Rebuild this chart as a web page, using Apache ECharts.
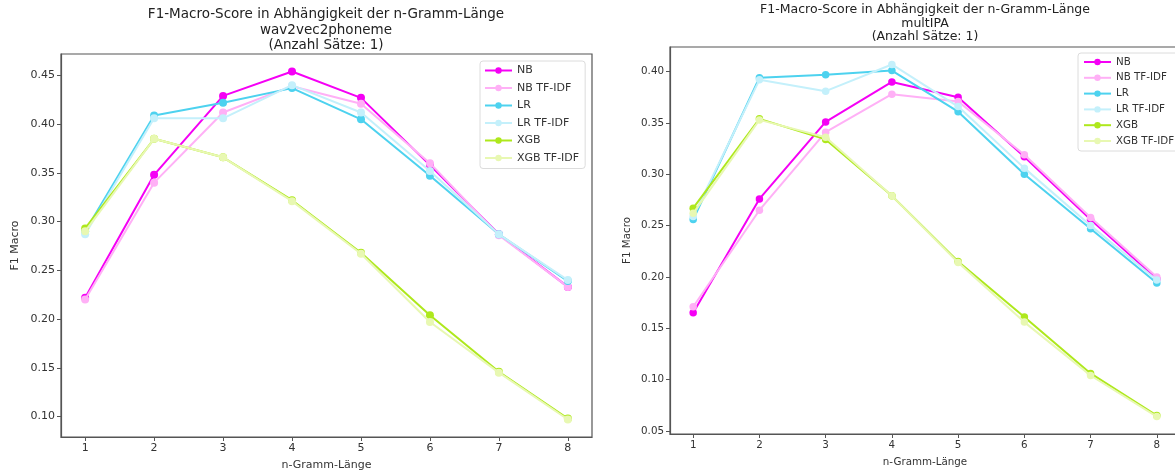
<!DOCTYPE html>
<html>
<head>
<meta charset="utf-8">
<script src="https://cdn.jsdelivr.net/npm/echarts@6/dist/echarts.min.js"></script>
<style>
  html, body { margin: 0; padding: 0; background: #fff; }
  #chart { width: 1175px; height: 472px; }
</style>
</head>
<body>
<div id="chart"></div>
<script>
// n-gram lengths on the x axis
const nGram = [1, 2, 3, 4, 5, 6, 7, 8];

// Tick positions / labels
const xTicks = [1, 2, 3, 4, 5, 6, 7, 8];
const yTicksLeft = [0.10, 0.15, 0.20, 0.25, 0.30, 0.35, 0.40, 0.45];
const yTicksRight = [0.05, 0.10, 0.15, 0.20, 0.25, 0.30, 0.35, 0.40];

// Series names
const seriesNames = ['NB', 'NB TF-IDF', 'LR', 'LR TF-IDF', 'XGB', 'XGB TF-IDF'];

// wav2vec2phoneme: F1 macro per n-gram length
const w2vNB      = [0.222, 0.348, 0.429, 0.454, 0.427, 0.358, 0.287, 0.233];
const w2vNBTfidf = [0.220, 0.340, 0.412, 0.439, 0.421, 0.360, 0.286, 0.233];
const w2vLR      = [0.290, 0.409, 0.422, 0.437, 0.405, 0.347, 0.287, 0.239];
const w2vLRTfidf = [0.287, 0.406, 0.406, 0.440, 0.412, 0.352, 0.287, 0.240];
const w2vXGB     = [0.293, 0.385, 0.366, 0.322, 0.268, 0.204, 0.146, 0.098];
const w2vXGBTfidf= [0.290, 0.385, 0.366, 0.321, 0.267, 0.197, 0.145, 0.097];

// multIPA: F1 macro per n-gram length
const ipaNB      = [0.165, 0.276, 0.351, 0.390, 0.375, 0.317, 0.256, 0.198];
const ipaNBTfidf = [0.171, 0.265, 0.341, 0.378, 0.371, 0.319, 0.258, 0.200];
const ipaLR      = [0.256, 0.394, 0.397, 0.401, 0.361, 0.300, 0.247, 0.194];
const ipaLRTfidf = [0.259, 0.392, 0.381, 0.407, 0.366, 0.306, 0.250, 0.197];
const ipaXGB     = [0.267, 0.354, 0.334, 0.279, 0.215, 0.161, 0.106, 0.065];
const ipaXGBTfidf= [0.262, 0.353, 0.336, 0.279, 0.214, 0.156, 0.104, 0.064];

const colors = ['#f500f5', '#ffb0f6', '#4dd2ef', '#c4f0fb', '#aee81c', '#e8f8b2'];
const FONT = 'DejaVu Sans';
const TXT = '#333';

function pairs(vals) { return nGram.map((n, i) => [n, vals[i]]); }

function buildSeries(sets, axisIdx, symSize) {
  return sets.map((vals, i) => ({
    name: seriesNames[i],
    type: 'line',
    xAxisIndex: axisIdx,
    yAxisIndex: axisIdx,
    data: pairs(vals),
    symbol: 'circle',
    symbolSize: symSize,
    showAllSymbol: true,
    lineStyle: { width: 2, color: colors[i] },
    itemStyle: { color: colors[i] },
    emphasis: { disabled: true },
    z: 2 + i
  }));
}

function xAxisDef(gridIndex, fs, gap) {
  return {
    type: 'value', gridIndex, min: 0.65, max: 8.35,
    name: 'n-Gramm-Länge', nameLocation: 'middle', nameGap: gap,
    nameTextStyle: { fontFamily: FONT, fontSize: fs, color: TXT },
    axisLine: { show: true, onZero: false, lineStyle: { color: '#555', width: 1.2 } },
    axisTick: { show: true, length: 4, customValues: xTicks, lineStyle: { color: '#555' } },
    axisLabel: { customValues: xTicks, fontFamily: FONT, fontSize: fs, color: TXT, margin: 6,
                 formatter: v => String(Math.round(v)) },
    splitLine: { show: false }
  };
}

function yAxisDef(gridIndex, min, max, ticks, fs, gap) {
  return {
    type: 'value', gridIndex, min, max,
    name: 'F1 Macro', nameLocation: 'middle', nameGap: gap, nameRotate: 90,
    nameTextStyle: { fontFamily: FONT, fontSize: fs, color: TXT },
    axisLine: { show: true, lineStyle: { color: '#555', width: 1.2 } },
    axisTick: { show: true, length: 4, customValues: ticks, lineStyle: { color: '#555' } },
    axisLabel: { customValues: ticks, fontFamily: FONT, fontSize: fs, color: TXT, margin: 6,
                 formatter: v => v.toFixed(2) },
    splitLine: { show: false }
  };
}

function legendDef(left, top, fs, lh, gap, pad) {
  return {
    orient: 'vertical', left, top,
    data: seriesNames,
    itemWidth: 27, itemHeight: 8, itemGap: gap,
    padding: pad,
    backgroundColor: '#fff',
    borderColor: '#dcdcdc', borderWidth: 1, borderRadius: 3,
    textStyle: { fontFamily: FONT, fontSize: fs, color: TXT, lineHeight: lh },
    selectedMode: false
  };
}

const chart = echarts.init(document.getElementById('chart'), null, { renderer: 'canvas' });

chart.setOption({
  animation: false,
  backgroundColor: '#fff',
  title: [
    {
      text: 'F1-Macro-Score in Abhängigkeit der n-Gramm-Länge\nwav2vec2phoneme\n(Anzahl Sätze: 1)',
      left: 326, top: 7, textAlign: 'center', padding: 0,
      textStyle: { fontFamily: FONT, fontSize: 13.5, fontWeight: 'normal', color: '#222', lineHeight: 15.5 }
    },
    {
      text: 'F1-Macro-Score in Abhängigkeit der n-Gramm-Länge\nmultIPA\n(Anzahl Sätze: 1)',
      left: 925, top: 3, textAlign: 'center', padding: 0,
      textStyle: { fontFamily: FONT, fontSize: 12.5, fontWeight: 'normal', color: '#222', lineHeight: 13.5 }
    }
  ],
  grid: [
    { left: 61, right: 583, top: 54, bottom: 35, show: true, borderColor: '#555', borderWidth: 1.2,
      containLabel: false, outerBoundsMode: 'none' },
    { left: 670, right: -5, top: 47, bottom: 38, show: true, borderColor: '#555', borderWidth: 1.2,
      containLabel: false, outerBoundsMode: 'none' }
  ],
  xAxis: [xAxisDef(0, 11, 23), xAxisDef(1, 10.3, 23)],
  yAxis: [
    yAxisDef(0, 0.079, 0.472, yTicksLeft, 11, 40),
    yAxisDef(1, 0.047, 0.424, yTicksRight, 10.3, 38)
  ],
  legend: [
    legendDef(480, 61, 11, 13, 4.5, [3, 6, 4, 4]),
    legendDef(1078, 53, 10.3, 12, 3.8, [3, 6, 4, 5])
  ],
  series: [
    ...buildSeries([w2vNB, w2vNBTfidf, w2vLR, w2vLRTfidf, w2vXGB, w2vXGBTfidf], 0, 8),
    ...buildSeries([ipaNB, ipaNBTfidf, ipaLR, ipaLRTfidf, ipaXGB, ipaXGBTfidf], 1, 7.5)
  ]
});
</script>
</body>
</html>
